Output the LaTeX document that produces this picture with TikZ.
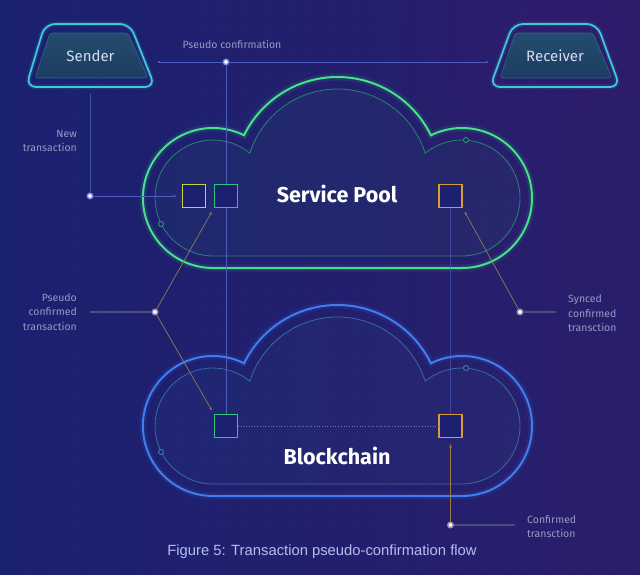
\documentclass[tikz,border=0pt]{standalone}
\usepackage{fontspec}
\setmainfont{Fira Sans}
\newfontfamily\capfont{Liberation Sans}
\usetikzlibrary{arrows.meta}
\definecolor{bgl}{HTML}{1A2170}
\definecolor{bgr}{HTML}{2A1E6C}
\definecolor{cyanline}{HTML}{3CCAD6}
\definecolor{trapfilltop}{HTML}{234C6E}
\definecolor{trapfillbot}{HTML}{1C3D62}
\definecolor{trapedge}{HTML}{2C6A84}
\definecolor{poolgreen}{HTML}{44E38A}
\definecolor{poolinner}{HTML}{2E9A72}
\definecolor{chainblue}{HTML}{3F7DF2}
\definecolor{chaininner}{HTML}{3B7FA8}
\definecolor{sqyellow}{HTML}{C9D240}
\definecolor{sqgreen}{HTML}{2FC57C}
\definecolor{sqorange}{HTML}{DA9B3A}
\definecolor{sqfill}{HTML}{1B2170}
\definecolor{guide}{HTML}{4E5EC0}
\definecolor{leader}{HTML}{8E7E52}
\definecolor{orangeline}{HTML}{9B7A45}
\definecolor{labelgray}{HTML}{4C4E7A}
\definecolor{labeltext}{HTML}{969BC2}
\definecolor{captext}{HTML}{B3BEF0}
\definecolor{dotblue}{HTML}{7D86E8}
\definecolor{dotpink}{HTML}{9A8BB8}
\definecolor{trapText}{HTML}{D5DCF0}
\tikzset{
  cloudout/.style={insert path={(213,268) -- (462,268)
    arc[start angle=-90,end angle=116.4,radius=70pt]
    arc[start angle=26.07,end angle=153.93,radius=104pt]
    arc[start angle=63.6,end angle=270,radius=70pt] -- cycle}},
  cloudin/.style={insert path={(213,256) -- (462,256)
    arc[start angle=-90,end angle=129.4,radius=58pt]
    arc[start angle=17.6,end angle=162.4,radius=92pt]
    arc[start angle=50.6,end angle=270,radius=58pt] -- cycle}},
}
\begin{document}
\begin{tikzpicture}[x=1pt,y=-1pt,
  sq/.style={draw, line width=1.4pt, fill=sqfill, minimum size=23pt, inner sep=0pt, rectangle},
  bdot/.style={circle, fill=white, draw=dotblue, line width=1.4pt, minimum size=5.5pt, inner sep=0pt},
  pdot/.style={circle, fill=white, draw=dotpink, line width=1.4pt, minimum size=5.5pt, inner sep=0pt},
  guideline/.style={draw=guide, line width=0.6pt},
  leaderline/.style={draw=leader, line width=0.7pt},
  labline/.style={draw=labelgray, line width=1.2pt},
  tip/.style={-{Stealth[length=3.5pt,width=2.6pt]}},
  lbl/.style={text=labeltext, font=\fontsize{10.5}{14.5}\selectfont, inner sep=0pt},
  trapout/.style={draw=cyanline, line width=1.8pt, rounded corners=10pt},
  trapin/.style={top color=trapfilltop, bottom color=trapfillbot, draw=trapedge, line width=0.6pt, rounded corners=3pt},
  idot/.style={circle, draw=#1, fill=sqfill, line width=0.9pt, minimum size=5pt, inner sep=0pt},
]
\useasboundingbox (0,0) rectangle (640,575);
% background
\shade[left color=bgl, right color=bgr] (0,0) rectangle (640,575);
\shade[inner color=bgr!80!violet, outer color=bgr, opacity=0.35] (560,40) circle (160pt);
\foreach \i in {0,...,29}{\foreach \j in {0,...,26}{
  \fill[white,opacity=0.06] (8+\i*21.6, 8+\j*21.6) circle (0.7pt);}}

% Service Pool cloud
\fill[poolinner, opacity=0.07, cloudin];
\draw[poolgreen, line width=7pt, opacity=0.10, cloudout];
\draw[poolgreen, line width=2pt, cloudout];
\draw[poolinner, line width=0.8pt, opacity=0.8, cloudin];
\node[idot=poolinner] (pdl) at (161,224) {};
\node[idot=poolinner] (pdr) at (466,140) {};

% Blockchain cloud
\begin{scope}[shift={(0,228)}]
\fill[chaininner, opacity=0.07, cloudin];
\draw[chainblue, line width=7pt, opacity=0.10, cloudout];
\draw[chainblue, line width=2pt, cloudout];
\draw[chaininner, line width=0.8pt, opacity=0.8, cloudin];
\node[idot=chaininner] (bdl) at (161,224) {};
\node[idot=chaininner] (bdr) at (466,140) {};
\end{scope}

% Sender / Receiver
\draw[cyanline, line width=5pt, opacity=0.12, rounded corners=10pt] (45,24) -- (130,24) -- (155,87) -- (26,87) -- cycle;
\draw[trapout] (45,24) -- (130,24) -- (155,87) -- (26,87) -- cycle;
\path[trapin] (50,33) -- (128,33) -- (148,78) -- (35,78) -- cycle;
\node[text=trapText, font=\fontsize{15}{18}\selectfont] (sender) at (90.5,56) {Sender};

\draw[cyanline, line width=5pt, opacity=0.12, rounded corners=10pt] (513,24) -- (597,24) -- (620,87) -- (490,87) -- cycle;
\draw[trapout] (513,24) -- (597,24) -- (620,87) -- (490,87) -- cycle;
\path[trapin] (515,33) -- (593,33) -- (612,78) -- (500,78) -- cycle;
\node[text=trapText, font=\fontsize{15}{18}\selectfont] (receiver) at (555,56) {Receiver};

% cloud titles
\node[text=white, font=\bfseries\fontsize{21.5}{25}\selectfont] (pooltitle) at (337,194) {Service Pool};
\node[text=white, font=\bfseries\fontsize{21.5}{25}\selectfont] (chaintitle) at (337,456) {Blockchain};

% squares
\node[sq, draw=sqyellow] (ny) at (194,196) {};
\node[sq, draw=sqgreen] (sgreen) at (226,196) {};
\node[sq, draw=sqorange] (sorange) at (450.5,196) {};
\node[sq, draw=sqgreen] (bgreen) at (226,426) {};
\node[sq, draw=sqorange] (borange) at (450.5,426) {};

% dots
\node[bdot] (dpc) at (226,62) {};
\node[bdot] (dnt) at (90,196) {};
\node[pdot] (dpcf) at (155,312) {};
\node[pdot] (dsc) at (520,312) {};
\node[pdot] (dct) at (450.5,525) {};

% free ends
\coordinate (pcl) at (157,62);
\coordinate (pcr) at (489,62);
\coordinate (sbot) at (90,94);
\coordinate (pcfl) at (90,312);
\coordinate (scr) at (556,312);
\coordinate (ctr) at (515,525);

% labels
\node[lbl, anchor=south] (lpc) at (232,49) {Pseudo confirmation};
\node[lbl, align=right, anchor=east] (lnt) at (77,141) {New\\transaction};
\node[lbl, align=right, anchor=east] (lpcf) at (77,312) {Pseudo\\confirmed\\transaction};
\node[lbl, align=left, anchor=west] (lsc) at (568,313.5) {Synced\\confirmed\\transction};
\node[lbl, align=left, anchor=west] (lct) at (527,526.5) {Confirmed\\transction};

% connectors
\draw[guideline, {Stealth[length=3.5pt,width=2.6pt]}-] (pcl) -- (dpc);
\draw[guideline, tip] (dpc) -- (pcr);
\draw[guideline] (dpc) -- (sgreen.north);
\draw[guideline] (sgreen.south) -- (bgreen.north);
\draw[guideline, opacity=0.6] (sorange.south) -- (borange.north);
\draw[draw=labeltext!70!bgl, line width=0.7pt, dotted] (bgreen.east) -- (borange.west);

\draw[guideline, opacity=0.8] (sbot) -- (dnt);
\draw[guideline, tip, shorten >=5pt] (dnt) -- (ny.west);

\draw[labline] (pcfl) -- (dpcf);
\draw[leaderline, tip, shorten >=4pt] (dpcf) -- (sgreen.south west);
\draw[leaderline, tip, shorten >=4pt] (dpcf) -- (bgreen.north west);

\draw[labline] (dsc) -- (scr);
\draw[leaderline, tip, shorten >=4pt] (dsc) -- (sorange.south east);

\draw[labline] (dct) -- (ctr);
\draw[draw=orangeline, line width=0.8pt, tip, shorten >=6pt] (dct) -- (borange.south);

% caption
\node[text=captext, font=\capfont\fontsize{14.8}{17}\selectfont] (caption) at (322,552) {Figure 5: Transaction pseudo-confirmation flow};
\end{tikzpicture}
\end{document}
